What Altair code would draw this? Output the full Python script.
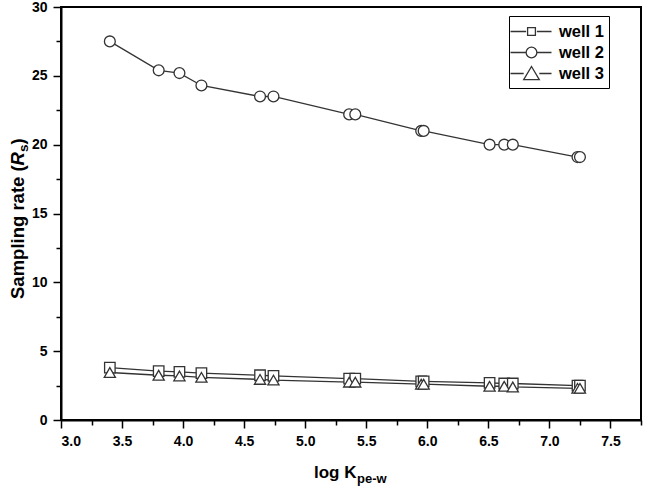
import altair as alt
import pandas as pd

# log K(pe-w) of the compounds (shared by all three wells)
log_k = [3.40, 3.80, 3.97, 4.15, 4.63, 4.74, 5.36, 5.41, 5.95, 5.97, 6.51, 6.63, 6.70, 7.23, 7.25]

# sampling rates per well
well_1 = [3.80, 3.55, 3.50, 3.40, 3.25, 3.20, 3.00, 3.00, 2.80, 2.80, 2.70, 2.65, 2.65, 2.50, 2.50]
well_2 = [27.5, 25.4, 25.2, 24.3, 23.5, 23.5, 22.2, 22.2, 21.0, 21.0, 20.0, 20.0, 20.0, 19.1, 19.1]
well_3 = [3.45, 3.25, 3.20, 3.10, 2.95, 2.90, 2.75, 2.75, 2.60, 2.60, 2.45, 2.45, 2.40, 2.30, 2.30]

wells = ["well 1", "well 2", "well 3"]

x_major = [3.0, 3.5, 4.0, 4.5, 5.0, 5.5, 6.0, 6.5, 7.0, 7.5]
x_minor = [3.25, 3.75, 4.25, 4.75, 5.25, 5.75, 6.25, 6.75, 7.25, 7.75]
y_major = [0, 5, 10, 15, 20, 25, 30]
y_minor = [2.5, 7.5, 12.5, 17.5, 22.5, 27.5]

rows = []
for name, vals in zip(wells, [well_1, well_2, well_3]):
    for k, v in zip(log_k, vals):
        rows.append({"well": name, "logk": k, "rs": v})
df = pd.DataFrame(rows)

FONT = "Liberation Sans"
INK = "#333333"

x_dom = [3.0, 7.75]
y_dom = [0, 30]

# legend glyphs: line - symbol - line
leg_paths = [
    "M-2.15,0H-0.55M0.55,0H2.05M-0.4,-0.4H0.4V0.4H-0.4Z",
    "M-2.15,0H-0.6M0.6,0H2.05M0.55,0A0.55,0.55 0 1,1 -0.55,0A0.55,0.55 0 1,1 0.55,0Z",
    "M-2.15,0H-0.8M0.8,0H2.05M0,-0.72L0.8,0.62L-0.8,0.62Z",
]

base = alt.Chart(df)

# minor ticks on an axis of their own
minor = base.mark_point(opacity=0).encode(
    x=alt.X("logk:Q", scale=alt.Scale(domain=x_dom, nice=False, zero=False),
            axis=alt.Axis(orient="bottom", values=x_minor, labels=False, domain=False,
                          ticks=True, tickSize=5, tickWidth=1.5, tickColor="black",
                          grid=False, title=None)),
    y=alt.Y("rs:Q", scale=alt.Scale(domain=y_dom, nice=False),
            axis=alt.Axis(orient="left", values=y_minor, labels=False, domain=False,
                          ticks=True, tickSize=5, tickWidth=1.5, tickColor="black",
                          grid=False, title=None)),
)

x_enc = alt.X("logk:Q", scale=alt.Scale(domain=x_dom, nice=False, zero=False),
              axis=alt.Axis(orient="bottom", values=x_major, format=".1f", tickSize=8,
                            labelPadding=6, title=None, grid=False))
y_enc = alt.Y("rs:Q", scale=alt.Scale(domain=y_dom, nice=False),
              axis=alt.Axis(orient="left", values=y_major, format="d", tickSize=8,
                            labelPadding=6, title=None, grid=False))

lines = base.mark_line(color=INK, strokeWidth=1.3).encode(
    x=x_enc, y=y_enc, detail="well:N", order="logk:Q"
)

points = base.mark_point(filled=True, fill="white", stroke=INK, strokeWidth=1.3, opacity=1).encode(
    x=x_enc,
    y=y_enc,
    shape=alt.Shape("well:N", scale=alt.Scale(domain=wells, range=["square", "circle", "triangle-up"]),
                    legend=None),
    size=alt.Size("well:N", scale=alt.Scale(domain=wells, range=[110, 125, 125]), legend=None),
)

legend_layer = base.transform_filter("false").mark_point(
    filled=False, color=INK, strokeWidth=1.3, opacity=1
).encode(
    shape=alt.Shape("well:N", scale=alt.Scale(domain=wells, range=leg_paths),
                    legend=alt.Legend(title=None, orient="none", legendX=448, legendY=9,
                                      strokeColor="black", fillColor="white", padding=5,
                                      symbolSize=381, symbolOffset=7, labelOffset=17,
                                      symbolStrokeWidth=1.3, symbolStrokeColor=INK,
                                      rowPadding=2,
                                      labelFont=FONT, labelFontSize=16.5, labelFontWeight="bold",
                                      labelColor="black")),
)

one = pd.DataFrame({"k": [0]})
tb = alt.Chart(one)


def txt(s, x, y, size=17.0, angle=0, style="normal"):
    return tb.mark_text(text=s, font=FONT, fontSize=size, fontWeight="bold", fontStyle=style,
                        color="black", align="left", baseline="alphabetic", angle=angle).encode(
        x=alt.value(x), y=alt.value(y))


# axis titles, with the italic R and the subscripts set as separate runs
titles = [
    txt("log K", 253, 471),
    txt("pe-w", 296, 476, size=13),
    txt("Sampling rate (", -37, 292, size=18.5, angle=270),
    txt("R", -37, 158.4, size=18.5, angle=270, style="italic"),
    txt("s", -33, 145, size=13.5, angle=270),
    txt(")", -37, 137.6, size=18.5, angle=270),
]

main = alt.layer(lines, points, legend_layer, *titles).resolve_scale(shape="independent", size="independent")

chart = alt.layer(minor, main).resolve_scale(x="independent", y="independent").properties(
    width=580, height=413,
    autosize=alt.AutoSizeParams(type="none"),
    padding={"left": 61, "top": 7, "right": 4, "bottom": 66},
).configure_view(stroke="black", strokeWidth=2).configure_axis(
    domainColor="black", domainWidth=2, tickColor="black", tickWidth=1.5,
    labelFont=FONT, labelFontSize=14, labelFontWeight="bold", labelColor="black",
)

chart.save("out.html", embed_options={"renderer": "svg", "actions": False})
